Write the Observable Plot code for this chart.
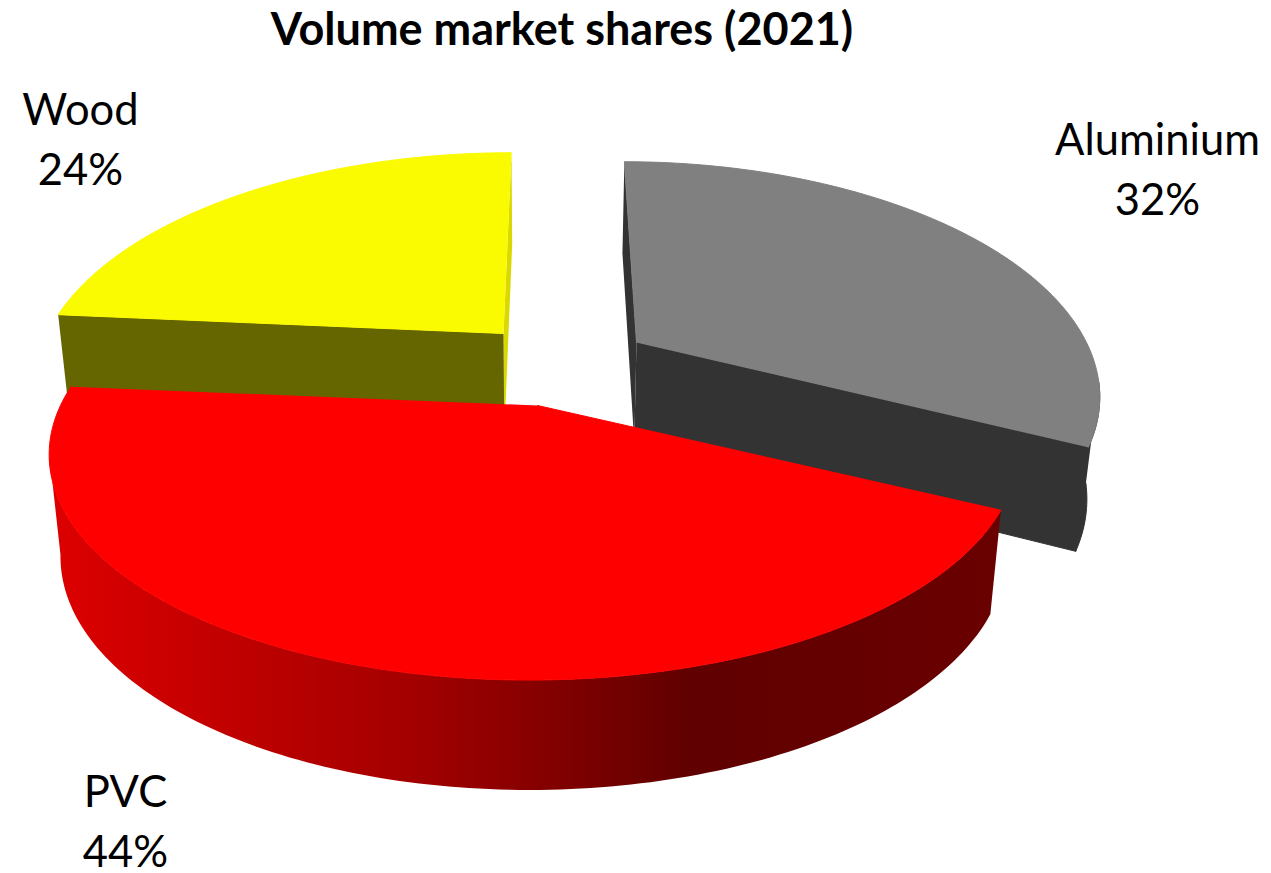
<!DOCTYPE html>
<html>
<head>
<meta charset="utf-8">
<script src="https://cdn.jsdelivr.net/npm/d3@7"></script>
<script src="https://cdn.jsdelivr.net/npm/@observablehq/plot@0.6"></script>
<style>
html,body{margin:0;padding:0;background:#fff;overflow:hidden}
#title{height:56px;width:1124px;text-align:center;font:bold 45px/56px Lato,sans-serif;color:#000}
svg{display:block}
</style>
</head>
<body>
<div id="title">Volume market shares (2021)</div>
<div id="chart"></div>
<script>
const categories = ["Aluminium", "PVC", "Wood"];
const shares = [32.2, 44.2, 23.6];
const topColors = ["#808080", "#ff0000", "#fafa00"];
const faceColors = ["#333333", "url(#redWall)", "#666600"];
const innerColors = ["#333333", "none", "#d9d900"];
const labelX = [1157, 125, 80];
const labelY = [165, 817, 135];
// pie position of each exploded slice: apex, horizontal radius, rim offset, vanishing x
const apexX = [636, 537, 503];
const apexY = [342, 405, 333];
const radiusX = [450, 474, 456];
const rimShift = [0, -3, 0];
const vanishX = [565, 555, 550];
// angle where each curved wall's silhouette meets the rim
const wallFrom = [100, null, null];
const wallTo = [null, 258, null];
const wallStops = [[0.01, "#dc0000"], [0.37, "#a50000"], [0.505, "#880000"], [0.674, "#600000"], [1, "#6a0000"]];

const persp = 0.206, radiusY = 218, baseX = 540, shrink = 0.977, depth = 100, depthPersp = 0.09;

function rim(i, deg) {
  const t = deg * Math.PI / 180, X = Math.sin(t), Y = Math.cos(t), w = 1 + persp * Y;
  return {x: apexX[i] + (radiusX[i] * X + rimShift[i] - (apexX[i] - vanishX[i]) * persp * Y) / w,
          y: apexY[i] - radiusY * Y / w, Y};
}
function base(p) {
  return {x: baseX + (p.x - baseX) * shrink, y: p.y + depth / (1 + depthPersp * p.Y)};
}
function apex(i) { return {x: apexX[i], y: apexY[i], Y: 0}; }
function arc(i, a, b) {
  const n = Math.max(2, Math.round(Math.abs(b - a))), out = [];
  for (let k = 0; k <= n; ++k) out.push(rim(i, a + (b - a) * k / n));
  return out;
}
const total = d3.sum(shares);
let acc = 0;
const spans = shares.map(s => { const a = acc; acc += s; return [a / total * 360, acc / total * 360]; });

function wall(i, a, b) { const t = arc(i, a, b); return [...t, ...t.slice().reverse().map(base)]; }
function radial(i, deg) { const t = [apex(i), rim(i, deg)]; return [...t, ...t.slice().reverse().map(base)]; }
function face(i) { return [apex(i), ...arc(i, spans[i][0], spans[i][1])]; }

// stroke in the fill's colour closes hairline seams between touching polygons
const poly = (data, fill, stroke = "none") =>
  Plot.line(data, {x: "x", y: "y", fill, stroke, strokeWidth: 1, strokeLinejoin: "round"});

const marks = [
  () => {
    const defs = d3.create("svg:defs");
    const g = defs.append("linearGradient").attr("id", "redWall");
    wallStops.forEach(([o, c]) => g.append("stop").attr("offset", o).attr("stop-color", c));
    return defs.node();
  },
  // Aluminium
  poly(radial(0, spans[0][0]), innerColors[0]),
  poly(wall(0, wallFrom[0], spans[0][1]), faceColors[0], faceColors[0]),
  poly(radial(0, spans[0][1]), faceColors[0], faceColors[0]),
  poly(face(0), topColors[0], topColors[0]),
  // Wood
  poly(radial(2, spans[2][1]), innerColors[2]),
  poly(radial(2, spans[2][0]), faceColors[2]),
  poly(face(2), topColors[2], topColors[2]),
  // PVC
  poly(wall(1, spans[1][0], wallTo[1]), faceColors[1]),
  poly(face(1), topColors[1], topColors[1]),
  // Labels
  Plot.text(categories, {
    x: (d, i) => labelX[i], y: (d, i) => labelY[i],
    text: (d, i) => `${d}\n${Math.round(shares[i])}%`,
    fontSize: 43.5, lineHeight: 1.38, fill: "#000", fontFamily: "Lato, sans-serif"
  })
];

document.getElementById("chart").append(Plot.plot({
  width: 1271, height: 817, margin: 0,
  x: {domain: [0, 1271], range: [0, 1271], axis: null},
  y: {domain: [56, 873], range: [0, 817], axis: null},
  marks
}));
</script>
</body>
</html>
